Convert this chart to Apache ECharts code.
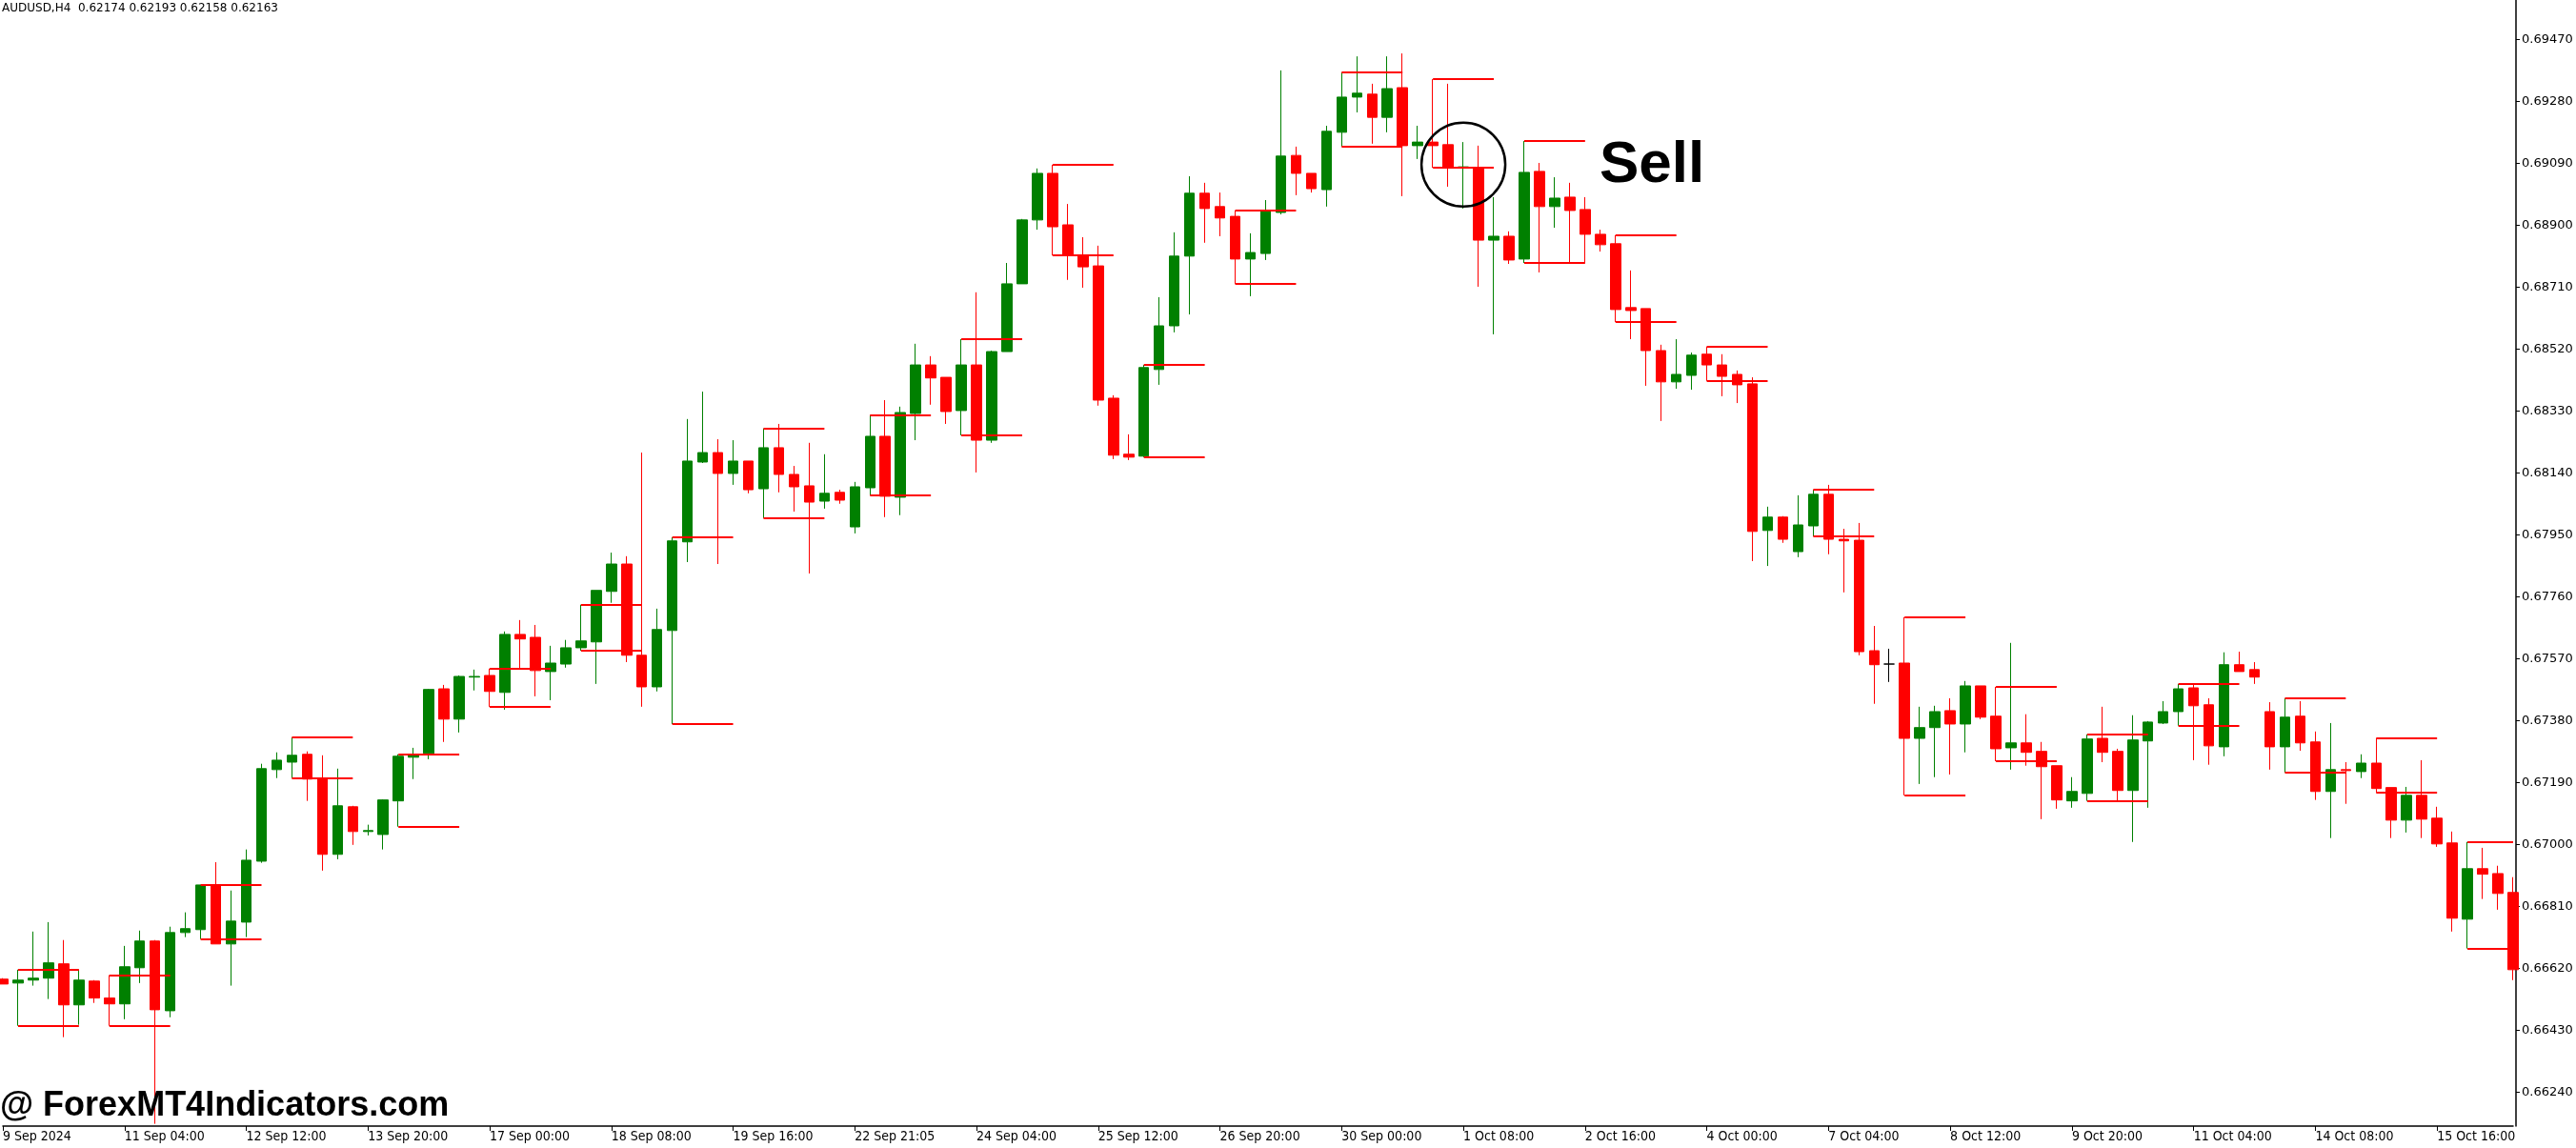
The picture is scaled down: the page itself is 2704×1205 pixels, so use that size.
<!DOCTYPE html>
<html>
<head>
<meta charset="utf-8">
<title>AUDUSD,H4</title>
<script src="https://cdn.jsdelivr.net/npm/echarts@6/dist/echarts.min.js"></script>
<style>
html, body { margin: 0; padding: 0; background: #fff; }
#chart { width: 2704px; height: 1205px; }
</style>
</head>
<body>
<div id="chart"></div>
<script>
// H4 candles, [open, close, low, high]
var candles = [
[0.66587,0.66572,0.66572,0.66590],[0.66575,0.66584,0.66444,0.66616],[0.66584,0.66590,0.66567,0.66733],[0.66590,0.66637,0.66526,0.66762],
[0.66634,0.66508,0.66409,0.66707],[0.66508,0.66584,0.66447,0.66616],[0.66581,0.66529,0.66514,0.66584],[0.66529,0.66511,0.66444,0.66599],
[0.66511,0.66625,0.66464,0.66689],[0.66622,0.66704,0.66575,0.66736],[0.66704,0.66493,0.66143,0.66707],[0.66490,0.66730,0.66470,0.66748],
[0.66730,0.66742,0.66716,0.66792],[0.66739,0.66876,0.66710,0.66876],[0.66876,0.66695,0.66695,0.66946],[0.66695,0.66765,0.66567,0.66859],
[0.66762,0.66952,0.66716,0.66985],[0.66949,0.67233,0.66944,0.67248],[0.67230,0.67259,0.67204,0.67283],[0.67253,0.67274,0.67204,0.67329],
[0.67277,0.67201,0.67134,0.67286],[0.67201,0.66970,0.66920,0.67274],[0.66970,0.67119,0.66955,0.67233],[0.67116,0.67040,0.66999,0.67119],
[0.67040,0.67043,0.67028,0.67061],[0.67031,0.67137,0.66985,0.67139],[0.67134,0.67271,0.67055,0.67277],[0.67268,0.67277,0.67201,0.67297],
[0.67280,0.67476,0.67262,0.67478],[0.67478,0.67385,0.67315,0.67490],[0.67385,0.67516,0.67344,0.67519],[0.67514,0.67516,0.67473,0.67537],
[0.67519,0.67470,0.67423,0.67540],[0.67467,0.67645,0.67414,0.67654],[0.67645,0.67631,0.67540,0.67689],[0.67636,0.67534,0.67455,0.67674],
[0.67531,0.67557,0.67443,0.67610],[0.67554,0.67604,0.67543,0.67628],[0.67604,0.67625,0.67595,0.67736],[0.67622,0.67780,0.67493,0.67780],
[0.67777,0.67861,0.67742,0.67896],[0.67861,0.67581,0.67560,0.67885],[0.67581,0.67484,0.67423,0.68203],[0.67484,0.67660,0.67470,0.67724],
[0.67657,0.67932,0.67370,0.67943],[0.67929,0.68177,0.67867,0.68306],[0.68174,0.68203,0.68171,0.68390],[0.68203,0.68139,0.67861,0.68244],
[0.68139,0.68177,0.68104,0.68241],[0.68177,0.68089,0.68078,0.68177],[0.68092,0.68218,0.68002,0.68277],[0.68218,0.68136,0.68081,0.68291],
[0.68136,0.68098,0.68022,0.68162],[0.68101,0.68051,0.67832,0.68233],[0.68054,0.68078,0.68031,0.68198],[0.68081,0.68057,0.68046,0.68089],
[0.67975,0.68098,0.67955,0.68113],[0.68095,0.68253,0.68072,0.68318],[0.68253,0.68069,0.68005,0.68364],[0.68066,0.68326,0.68011,0.68344],
[0.68323,0.68472,0.68241,0.68537],[0.68472,0.68432,0.68350,0.68499],[0.68434,0.68329,0.68291,0.68434],[0.68332,0.68472,0.68256,0.68551],
[0.68472,0.68241,0.68142,0.68695],[0.68241,0.68513,0.68233,0.68516],[0.68513,0.68721,0.68513,0.68785],[0.68721,0.68917,0.68721,0.68920],
[0.68917,0.69060,0.68887,0.69075],[0.69060,0.68896,0.68808,0.69086],[0.68902,0.68808,0.68733,0.68966],[0.68808,0.68773,0.68709,0.68864],
[0.68776,0.68364,0.68347,0.68838],[0.68370,0.68195,0.68183,0.68379],[0.68198,0.68189,0.68180,0.68259],[0.68192,0.68464,0.68189,0.68472],
[0.68458,0.68592,0.68411,0.68680],[0.68592,0.68806,0.68572,0.68879],[0.68806,0.68999,0.68627,0.69051],[0.68999,0.68952,0.68847,0.69031],
[0.68958,0.68923,0.68867,0.69001],[0.68928,0.68797,0.68721,0.68946],[0.68797,0.68817,0.68683,0.68876],[0.68814,0.68946,0.68794,0.68978],
[0.68940,0.69113,0.68934,0.69376],[0.69115,0.69060,0.68993,0.69142],[0.69060,0.69013,0.69001,0.69060],[0.69010,0.69189,0.68958,0.69206],
[0.69186,0.69294,0.69142,0.69370],[0.69294,0.69306,0.69247,0.69419],[0.69303,0.69232,0.69151,0.69335],[0.69232,0.69320,0.69186,0.69419],
[0.69323,0.69145,0.68990,0.69428],[0.69145,0.69156,0.69104,0.69206],[0.69156,0.69145,0.69077,0.69349],[0.69148,0.69077,0.69019,0.69335],
[0.69077,0.69080,0.68952,0.69156],[0.69077,0.68855,0.68712,0.69145],[0.68855,0.68867,0.68566,0.68987],[0.68867,0.68794,0.68782,0.68882],
[0.68797,0.69063,0.68785,0.69159],[0.69066,0.68958,0.68756,0.69092],[0.68958,0.68984,0.68893,0.69048],[0.68987,0.68946,0.68785,0.69031],
[0.68949,0.68873,0.68785,0.68987],[0.68873,0.68841,0.68820,0.68887],[0.68844,0.68642,0.68604,0.68870],[0.68648,0.68639,0.68551,0.68762],
[0.68645,0.68516,0.68408,0.68645],[0.68516,0.68420,0.68300,0.68534],[0.68420,0.68443,0.68399,0.68551],[0.68440,0.68502,0.68396,0.68510],
[0.68505,0.68472,0.68423,0.68528],[0.68472,0.68437,0.68376,0.68505],[0.68443,0.68411,0.68355,0.68455],[0.68414,0.67961,0.67870,0.68434],
[0.67964,0.68005,0.67855,0.68037],[0.68005,0.67937,0.67926,0.68008],[0.67899,0.67981,0.67882,0.68072],[0.67978,0.68075,0.67946,0.68089],
[0.68075,0.67937,0.67891,0.68104],[0.67937,0.67932,0.67774,0.67969],[0.67934,0.67592,0.67581,0.67987],[0.67595,0.67552,0.67432,0.67671],
[0.67554,0.67554,0.67499,0.67601],[0.67557,0.67326,0.67151,0.67698],[0.67326,0.67359,0.67186,0.67423],[0.67359,0.67408,0.67207,0.67426],
[0.67411,0.67370,0.67215,0.67449],[0.67370,0.67487,0.67283,0.67502],[0.67487,0.67391,0.67385,0.67487],[0.67394,0.67294,0.67256,0.67484],
[0.67297,0.67312,0.67230,0.67619],[0.67312,0.67283,0.67242,0.67400],[0.67286,0.67239,0.67078,0.67315],[0.67242,0.67137,0.67110,0.67242],
[0.67134,0.67163,0.67113,0.67207],[0.67157,0.67324,0.67134,0.67338],[0.67326,0.67283,0.67253,0.67423],[0.67286,0.67166,0.67134,0.67294],
[0.67166,0.67321,0.67008,0.67397],[0.67318,0.67376,0.67113,0.67379],[0.67373,0.67408,0.67370,0.67440],[0.67408,0.67478,0.67365,0.67493],
[0.67481,0.67426,0.67259,0.67493],[0.67429,0.67303,0.67245,0.67449],[0.67300,0.67552,0.67271,0.67590],[0.67552,0.67531,0.67531,0.67592],
[0.67537,0.67514,0.67493,0.67560],[0.67408,0.67300,0.67230,0.67437],[0.67300,0.67391,0.67221,0.67449],[0.67394,0.67312,0.67288,0.67440],
[0.67315,0.67163,0.67137,0.67347],[0.67163,0.67230,0.67020,0.67373],[0.67230,0.67227,0.67125,0.67253],[0.67224,0.67250,0.67204,0.67277],
[0.67250,0.67172,0.67160,0.67326],[0.67175,0.67075,0.67020,0.67175],[0.67075,0.67151,0.67037,0.67177],[0.67151,0.67078,0.67020,0.67259],
[0.67081,0.67002,0.66993,0.67116],[0.67005,0.66774,0.66733,0.67040],[0.66771,0.66926,0.66681,0.67008],[0.66926,0.66909,0.66833,0.66990],
[0.66911,0.66850,0.66800,0.66935],[0.66853,0.66616,0.66584,0.66900]
];

// mother-bar levels: [first bar, last bar, high, low]
var levels = [
[1,5,0.66616,0.66444],[7,11,0.66599,0.66444],[13,17,0.66876,0.66710],[19,23,0.67329,0.67204],
[26,30,0.67277,0.67055],[32,36,0.67540,0.67423],[38,42,0.67736,0.67595],[44,48,0.67943,0.67370],
[50,54,0.68277,0.68002],[57,61,0.68318,0.68072],[63,67,0.68551,0.68256],[69,73,0.69086,0.68808],
[75,79,0.68472,0.68189],[81,85,0.68946,0.68721],[88,92,0.69370,0.69142],[94,98,0.69349,0.69077],
[100,104,0.69159,0.68785],[106,110,0.68870,0.68604],[112,116,0.68528,0.68423],[119,123,0.68089,0.67946],
[125,129,0.67698,0.67151],[131,135,0.67484,0.67256],[137,141,0.67338,0.67134],[143,147,0.67493,0.67365],
[150,154,0.67449,0.67221],[156,160,0.67326,0.67160],[162,165,0.67008,0.66681]
];

// one label every 8 bars
var timeLabels = ['9 Sep 2024', '11 Sep 04:00', '12 Sep 12:00', '13 Sep 20:00', '17 Sep 00:00', '18 Sep 08:00',
    '19 Sep 16:00', '22 Sep 21:05', '24 Sep 04:00', '25 Sep 12:00', '26 Sep 20:00', '30 Sep 00:00',
    '1 Oct 08:00', '2 Oct 16:00', '4 Oct 00:00', '7 Oct 04:00', '8 Oct 12:00', '9 Oct 20:00',
    '11 Oct 04:00', '14 Oct 08:00', '15 Oct 16:00'];

var priceTicks = [0.66240, 0.66430, 0.66620, 0.66810, 0.67000, 0.67190, 0.67380, 0.67570, 0.67760,
    0.67950, 0.68140, 0.68330, 0.68520, 0.68710, 0.68900, 0.69090, 0.69280, 0.69470];

var sellBar = 96;
var sellPrice = 0.69087;

var bars = candles.map(function (c, i) { return String(i); });

var levelLines = [];
levels.forEach(function (lv) {
    levelLines.push({ coords: [[lv[0], lv[2]], [lv[1], lv[2]]] });
    levelLines.push({ coords: [[lv[0], lv[3]], [lv[1], lv[3]]] });
});

var chart = echarts.init(document.getElementById('chart'), null, { renderer: 'canvas' });
chart.setOption({
    animation: false,
    backgroundColor: '#ffffff',
    grid: { left: -2, right: 66, top: 0, bottom: 23 },
    xAxis: {
        type: 'category',
        data: bars,
        boundaryGap: false,
        axisLine: { lineStyle: { color: '#000', width: 1.5 } },
        axisTick: { interval: 7, length: 5, lineStyle: { color: '#000' } },
        axisLabel: {
            interval: 7,
            align: 'left',
            margin: 4,
            color: '#000',
            fontSize: 14,
            fontFamily: 'DejaVu Sans Condensed',
            formatter: function (v, i) { return timeLabels[i / 8] || ''; }
        },
        splitLine: { show: false }
    },
    yAxis: {
        type: 'value',
        position: 'right',
        offset: 3,
        min: 0.66136,
        max: 0.69592,
        scale: true,
        axisLine: { show: true, lineStyle: { color: '#000', width: 1.5 } },
        axisTick: { show: true, length: 4, customValues: priceTicks, lineStyle: { color: '#000' } },
        axisLabel: {
            customValues: priceTicks,
            margin: 6,
            color: '#000',
            fontSize: 13,
            fontFamily: 'DejaVu Sans',
            formatter: function (v) { return v.toFixed(5); }
        },
        splitLine: { show: false }
    },
    series: [
        {
            type: 'candlestick',
            data: candles,
            barWidth: 11,
            itemStyle: {
                color: '#008000',
                color0: '#ff0000',
                borderColor: '#008000',
                borderColor0: '#ff0000',
                borderColorDoji: '#000000',
                borderWidth: 1
            }
        },
        {
            type: 'lines',
            coordinateSystem: 'cartesian2d',
            data: levelLines,
            silent: true,
            z: 3,
            lineStyle: { color: '#ff0000', width: 2, opacity: 1 }
        }
    ]
});

var c = chart.convertToPixel({ gridIndex: 0 }, [sellBar, sellPrice]);
chart.setOption({
    graphic: [
        {
            type: 'text', left: 2, top: 3,
            style: { text: 'AUDUSD,H4  0.62174 0.62193 0.62158 0.62163', fill: '#000', font: '12px "DejaVu Sans"' }
        },
        {
            type: 'circle', shape: { cx: c[0], cy: c[1], r: 44 }, z: 10,
            style: { fill: 'none', stroke: '#000', lineWidth: 2.5 }
        },
        {
            type: 'text', x: 1679, y: 143, z: 10,
            style: { text: 'Sell', fill: '#000', font: 'bold 62px "Liberation Sans"' }
        },
        {
            type: 'text', x: 0, y: 1143, z: 10,
            style: { text: '@ ForexMT4Indicators.com', fill: '#000', font: 'bold 36px "Liberation Sans"' }
        }
    ]
});
</script>
</body>
</html>
